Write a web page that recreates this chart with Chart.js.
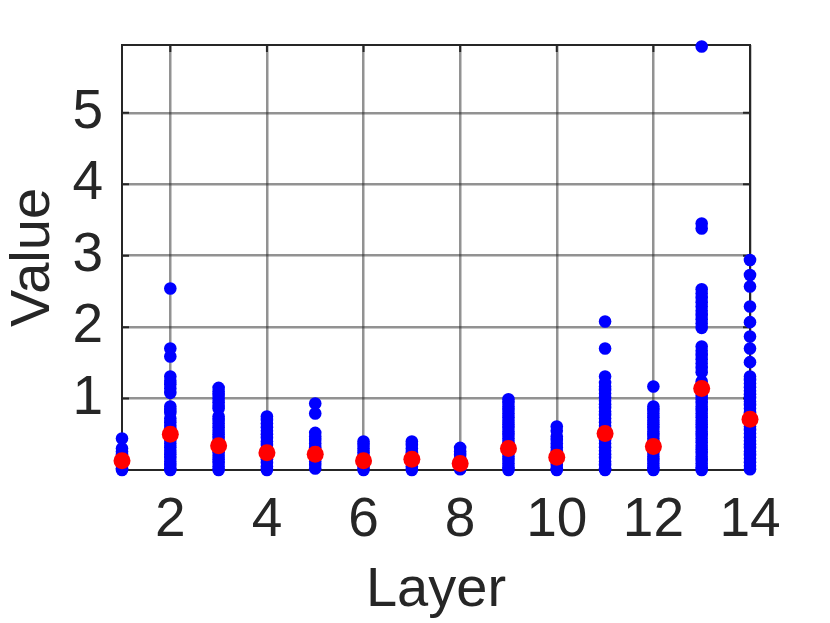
<!DOCTYPE html>
<html>
<head>
<meta charset="utf-8">
<script src="https://cdn.jsdelivr.net/npm/chart.js@4.4.1/dist/chart.umd.min.js"></script>
<style>
  html, body { margin: 0; padding: 0; background: #fff; }
</style>
</head>
<body>
<canvas id="chart" width="830" height="623"></canvas>
<script>
// layers on the x axis
const layers = [1, 2, 3, 4, 5, 6, 7, 8, 9, 10, 11, 12, 13, 14];

// individual values per layer (blue dots)
const layer1  = [0.44, 0.30, 0.26, 0.22, 0.18, 0.14, 0.10, 0.06, 0.02, 0.00];
const layer2  = [2.54, 1.70, 1.59, 1.31, 1.25, 1.20, 1.14, 1.08, 0.89, 0.84, 0.80, 0.72, 0.67, 0.62, 0.57, 0.52, 0.47, 0.42, 0.37, 0.32, 0.27, 0.22, 0.17, 0.12, 0.07, 0.02, 0.00];
const layer3  = [1.15, 1.10, 1.05, 1.00, 0.95, 0.90, 0.86, 0.75, 0.70, 0.65, 0.60, 0.55, 0.50, 0.45, 0.40, 0.35, 0.30, 0.25, 0.20, 0.15, 0.10, 0.05, 0.00];
const layer4  = [0.75, 0.70, 0.65, 0.60, 0.55, 0.50, 0.45, 0.40, 0.35, 0.30, 0.25, 0.20, 0.15, 0.10, 0.05, 0.00];
const layer5  = [0.93, 0.79, 0.52, 0.47, 0.42, 0.37, 0.32, 0.27, 0.22, 0.17, 0.12, 0.07, 0.02];
const layer6  = [0.40, 0.35, 0.30, 0.25, 0.20, 0.15, 0.10, 0.05, 0.00];
const layer7  = [0.40, 0.35, 0.30, 0.25, 0.20, 0.15, 0.10, 0.05, 0.00];
const layer8  = [0.31, 0.26, 0.21, 0.16, 0.11, 0.06, 0.01];
const layer9  = [0.99, 0.94, 0.89, 0.84, 0.79, 0.74, 0.69, 0.64, 0.59, 0.54, 0.49, 0.44, 0.39, 0.34, 0.29, 0.24, 0.19, 0.14, 0.09, 0.04, 0.00];
const layer10 = [0.61, 0.55, 0.47, 0.42, 0.37, 0.32, 0.27, 0.22, 0.17, 0.12, 0.07, 0.02, 0.00];
const layer11 = [2.08, 1.70, 1.31, 1.22, 1.17, 1.12, 1.07, 1.02, 0.97, 0.92, 0.87, 0.82, 0.77, 0.72, 0.67, 0.62, 0.57, 0.52, 0.47, 0.42, 0.37, 0.32, 0.27, 0.22, 0.17, 0.12, 0.07, 0.02, 0.00];
const layer12 = [1.17, 0.89, 0.84, 0.79, 0.74, 0.69, 0.64, 0.59, 0.54, 0.49, 0.44, 0.39, 0.34, 0.29, 0.24, 0.19, 0.14, 0.09, 0.04, 0.00];
const layer13 = [5.93, 3.45, 3.38, 2.53, 2.47, 2.41, 2.35, 2.29, 2.23, 2.17, 2.11, 2.05, 1.99, 1.73, 1.67, 1.61, 1.55, 1.49, 1.43, 1.37, 1.24, 1.19, 1.14, 1.09, 1.04, 0.99, 0.94, 0.89, 0.84, 0.79, 0.74, 0.69, 0.64, 0.59, 0.54, 0.49, 0.44, 0.39, 0.34, 0.29, 0.24, 0.19, 0.14, 0.09, 0.04, 0.00];
const layer14 = [2.94, 2.73, 2.57, 2.29, 2.07, 1.87, 1.70, 1.51, 1.31, 1.26, 1.21, 1.16, 1.11, 1.06, 1.01, 0.96, 0.91, 0.86, 0.81, 0.76, 0.71, 0.66, 0.61, 0.56, 0.51, 0.46, 0.41, 0.36, 0.31, 0.26, 0.21, 0.16, 0.11, 0.06, 0.01];
const layerValues = [layer1, layer2, layer3, layer4, layer5, layer6, layer7, layer8, layer9, layer10, layer11, layer12, layer13, layer14];

// mean per layer (red dots)
const layerMeans = [0.13, 0.50, 0.34, 0.24, 0.22, 0.13, 0.15, 0.09, 0.30, 0.18, 0.51, 0.33, 1.14, 0.71];

// tick labels
const xTicks = [2, 4, 6, 8, 10, 12, 14];
const yTicks = [1, 2, 3, 4, 5];

const FONT = "'Liberation Sans Narrow', 'Liberation Sans', Arial, sans-serif";
const INK = '#262626';
const GRID = 'rgba(38,38,38,0.5)';

const allPoints = [];
layerValues.forEach((vals, i) => vals.forEach(v => allPoints.push({ x: layers[i], y: v })));
const meanPoints = layerMeans.map((m, i) => ({ x: layers[i], y: m }));

// box round the plot area plus short inward ticks, matlab style
const boxPlugin = {
  id: 'box',
  beforeDatasetsDraw(chart) {
    const { ctx, chartArea: a, scales } = chart;
    ctx.save();
    ctx.strokeStyle = INK;
    ctx.lineWidth = 2;
    ctx.beginPath();
    scales.y.ticks.forEach(t => {
      const py = scales.y.getPixelForValue(t.value);
      ctx.moveTo(a.left, py); ctx.lineTo(a.left + 7, py);
      ctx.moveTo(a.right, py); ctx.lineTo(a.right - 7, py);
    });
    scales.x.ticks.forEach(t => {
      const px = scales.x.getPixelForValue(t.value);
      ctx.moveTo(px, a.bottom); ctx.lineTo(px, a.bottom - 7);
      ctx.moveTo(px, a.top); ctx.lineTo(px, a.top + 7);
    });
    ctx.stroke();
    ctx.strokeRect(a.left, a.top, a.right - a.left, a.bottom - a.top);
    ctx.restore();
  }
};

new Chart(document.getElementById('chart'), {
  type: 'scatter',
  data: {
    datasets: [
      { label: 'mean', data: meanPoints, order: 0, pointRadius: 8.5, pointHoverRadius: 8.5,
        backgroundColor: '#ff0000', borderWidth: 0, clip: false },
      { label: 'values', data: allPoints, order: 1, pointRadius: 6.3, pointHoverRadius: 6.3,
        backgroundColor: '#0000ff', borderWidth: 0, clip: false }
    ]
  },
  options: {
    responsive: false,
    animation: false,
    devicePixelRatio: 1,
    layout: { padding: { left: 0, right: 80, top: 45, bottom: 0 } },
    plugins: { legend: { display: false }, tooltip: { enabled: false } },
    scales: {
      x: {
        type: 'linear', min: 1, max: 14,
        afterBuildTicks: s => { s.ticks = xTicks.map(v => ({ value: v })); },
        afterFit: s => { s.height = 153; s.paddingLeft = 0; s.paddingRight = 0; },
        grid: { color: GRID, lineWidth: 2.5, drawTicks: false },
        border: { color: INK, width: 2 },
        ticks: { color: INK, padding: 18, maxRotation: 0, font: { family: FONT, size: 55 } },
        title: { display: true, text: 'Layer', color: INK, padding: { top: 0, bottom: -1 }, font: { family: FONT, size: 56 } }
      },
      y: {
        type: 'linear', min: 0, max: 5.95,
        afterBuildTicks: s => { s.ticks = yTicks.map(v => ({ value: v })); },
        afterFit: s => { s.width = 122; s.paddingTop = 0; s.paddingBottom = 0; },
        grid: { color: GRID, lineWidth: 2.5, drawTicks: false },
        border: { color: INK, width: 2 },
        ticks: { color: INK, padding: 19, font: { family: FONT, size: 55 } },
        title: { display: true, text: 'Value', color: INK, padding: 0, font: { family: FONT, size: 56 } }
      }
    }
  },
  plugins: [boxPlugin]
});
</script>
</body>
</html>
